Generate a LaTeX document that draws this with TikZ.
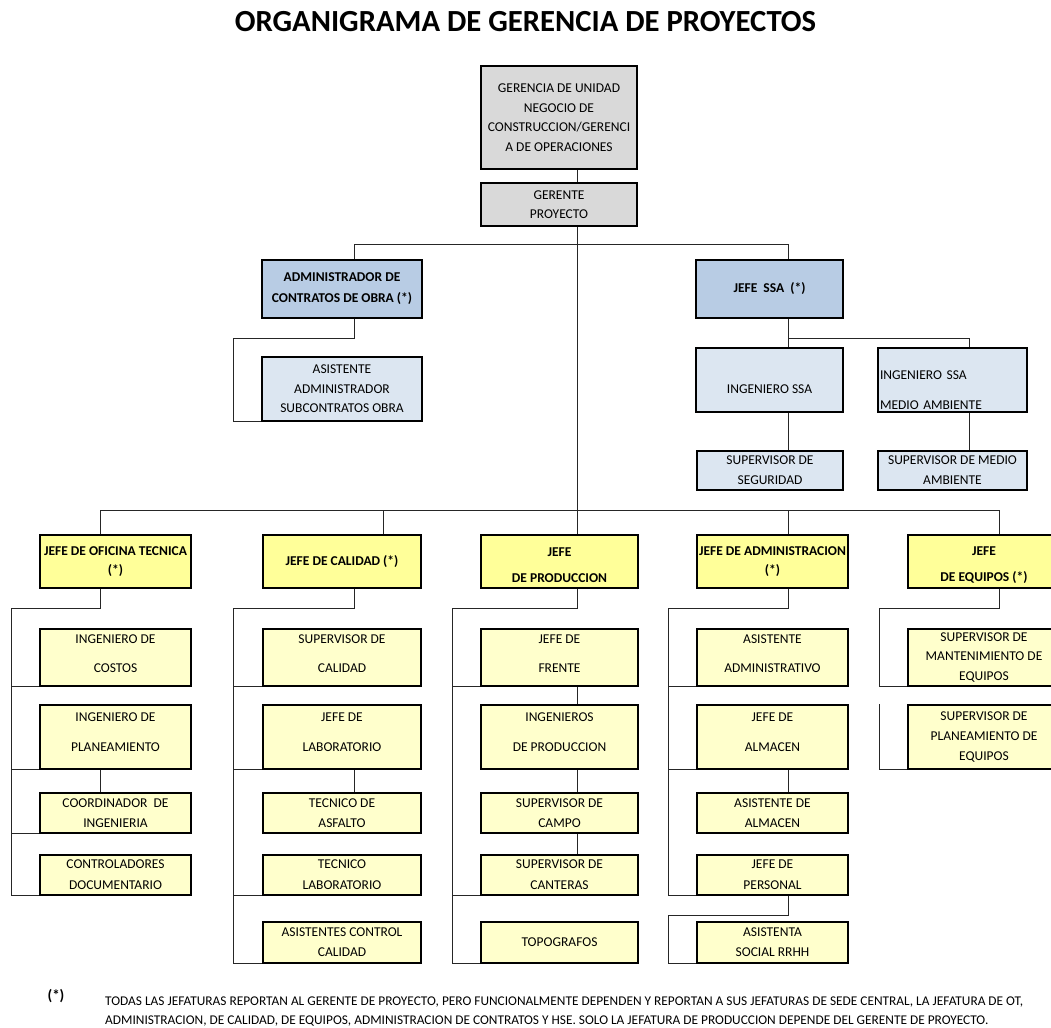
\documentclass[tikz,border=0pt]{standalone}
\usepackage{fontspec}
\setmainfont{Carlito}
\usepackage{graphicx}
\definecolor{boxgray}{HTML}{D9D9D9}
\definecolor{boxblue}{HTML}{B8CCE4}
\definecolor{boxlblue}{HTML}{DCE6F1}
\definecolor{jefeyel}{HTML}{FFFF99}
\definecolor{childyel}{HTML}{FFFFCC}
% a box from its corners: name, x1, y1, x2, y2, style, text
\newcommand\orgbox[7]{%
  \node[box,#6,minimum width={#4-#2},minimum height={#5-#3}] (#1)
    at ({(#2+#4)/2},{(#3+#5)/2}) {#7};}
\begin{document}
\begin{tikzpicture}[x=1pt,y=-1pt,
  box/.style={draw=black,line width=1.6pt,inner sep=0pt,align=center,
    font=\fontsize{13.5}{15.6}\selectfont},
  gray box/.style={fill=boxgray},
  head box/.style={fill=boxblue,font=\fontsize{13.5}{15.6}\selectfont\bfseries},
  staff box/.style={fill=boxlblue},
  jefe box/.style={fill=jefeyel,font=\fontsize{13.5}{15.6}\selectfont\bfseries},
  child box/.style={fill=childyel},
  row one/.style={text depth=8pt},
  row two/.style={text depth=10pt},
  conn/.style={draw=black!85,line width=0.9pt}]
\useasboundingbox (0,0) rectangle (1051,1027);
\fill[white] (0,0) rectangle (1051,1027);

% title
\node[font=\fontsize{30.7}{36}\selectfont\bfseries] (title) at (525.5,22)
  {ORGANIGRAMA DE GERENCIA DE PROYECTOS};

% upper management
\orgbox{g1}{481}{66}{637}{169}{gray box}
  {GERENCIA DE UNIDAD\\[4pt]NEGOCIO DE\\[4pt]CONSTRUCCION/GERENCI\\[4pt]A DE OPERACIONES}
\orgbox{g2}{481}{183}{637}{226}{gray box}{GERENTE\\[3.4pt]PROYECTO}

% staff heads
\orgbox{adm}{262}{260}{422}{318}{head box}{ADMINISTRADOR DE\\[5.4pt]CONTRATOS DE OBRA (*)}
\orgbox{asis}{262}{357}{422}{421}{staff box}{ASISTENTE\\[3.9pt]ADMINISTRADOR\\[3.9pt]SUBCONTRATOS OBRA}
\orgbox{ssa}{696}{260}{843}{318}{head box}{JEFE\ \ SSA\ \ (*)}
\orgbox{ingssa}{696}{348}{843}{412}{staff box,text height=28pt}{INGENIERO SSA}
\orgbox{ingma}{878}{348}{1027}{412}{staff box,text width=145pt,align=left,text height=28.4pt}
  {INGENIERO SSA\\[14.4pt]MEDIO AMBIENTE}
\orgbox{supseg}{697}{451}{843}{490}{staff box}{SUPERVISOR DE\\[4.4pt]SEGURIDAD}
\orgbox{supma}{878}{451}{1027}{490}{staff box}{SUPERVISOR DE MEDIO\\[4.4pt]AMBIENTE}

% line heads
\orgbox{ofi}{40}{535}{191}{588}{jefe box}{JEFE DE OFICINA TECNICA\\[3.4pt](*)}
\orgbox{cal}{263}{535}{421}{588}{jefe box}{JEFE DE CALIDAD (*)}
\orgbox{prod}{481}{535}{638}{588}{jefe box,text height=41.5pt}{JEFE\\[10.4pt]DE PRODUCCION}
\orgbox{jadm}{697}{535}{848}{588}{jefe box}{JEFE DE ADMINISTRACION\\[3.4pt](*)}
\orgbox{eqp}{908}{535}{1060}{588}{jefe box,text height=41.5pt}{JEFE\\[10.4pt]DE EQUIPOS (*)}

% oficina tecnica
\orgbox{o1}{40}{629}{191}{686}{child box,row one}{INGENIERO DE\\[13.4pt]COSTOS}
\orgbox{o2}{40}{705}{191}{769}{child box,row two}{INGENIERO DE\\[14.4pt]PLANEAMIENTO}
\orgbox{o3}{40}{793}{191}{833}{child box}{COORDINADOR\ \ DE\\[4.4pt]INGENIERIA}
\orgbox{o4}{40}{855}{191}{895}{child box}{CONTROLADORES\\[5.4pt]DOCUMENTARIO}

% calidad
\orgbox{k1}{263}{629}{421}{686}{child box,row one}{SUPERVISOR DE\\[13.4pt]CALIDAD}
\orgbox{k2}{263}{705}{421}{769}{child box,row two}{JEFE DE\\[14.4pt]LABORATORIO}
\orgbox{k3}{263}{793}{421}{833}{child box}{TECNICO DE\\[4.4pt]ASFALTO}
\orgbox{k4}{263}{855}{421}{895}{child box}{TECNICO\\[5.4pt]LABORATORIO}
\orgbox{k5}{263}{922}{421}{963}{child box}{ASISTENTES CONTROL\\[4.4pt]CALIDAD}

% produccion
\orgbox{p1}{481}{629}{638}{686}{child box,row one}{JEFE DE\\[13.4pt]FRENTE}
\orgbox{p2}{481}{705}{638}{769}{child box,row two}{INGENIEROS\\[14.4pt]DE PRODUCCION}
\orgbox{p3}{481}{793}{638}{833}{child box}{SUPERVISOR DE\\[4.4pt]CAMPO}
\orgbox{p4}{481}{855}{638}{895}{child box}{SUPERVISOR DE\\[5.4pt]CANTERAS}
\orgbox{p5}{481}{922}{638}{963}{child box}{TOPOGRAFOS}

% administracion
\orgbox{d1}{697}{629}{848}{686}{child box,row one}{ASISTENTE\\[13.4pt]ADMINISTRATIVO}
\orgbox{d2}{697}{705}{848}{769}{child box,row two}{JEFE DE\\[14.4pt]ALMACEN}
\orgbox{d3}{697}{793}{848}{833}{child box}{ASISTENTE DE\\[4.4pt]ALMACEN}
\orgbox{d4}{697}{855}{848}{895}{child box}{JEFE DE\\[5.4pt]PERSONAL}
\orgbox{d5}{697}{922}{848}{963}{child box}{ASISTENTA\\[4.4pt]SOCIAL RRHH}

% equipos
\orgbox{e1}{908}{629}{1060}{686}{child box}{SUPERVISOR DE\\[4pt]MANTENIMIENTO DE\\[4pt]EQUIPOS}
\orgbox{e2}{908}{705}{1060}{769}{child box}{SUPERVISOR DE\\[4.4pt]PLANEAMIENTO DE\\[4.4pt]EQUIPOS}

% routing points
\coordinate (cx) at (577,510);
\coordinate (tA) at (354,244);
\coordinate (tB) at (788,244);
\coordinate (c1) at (233,338);
\coordinate (s1) at (788,338);
\coordinate (s2) at (969,338);
\coordinate (b1) at (100,510);
\coordinate (b2) at (383,510);
\coordinate (b4) at (788,510);
\coordinate (b5) at (999,510);
\coordinate (oL) at (11,608);
\coordinate (kx) at (354,608);
\coordinate (kL) at (233,608);
\coordinate (pL) at (452,608);
\coordinate (dL) at (668,608);
\coordinate (dS) at (668,915);
\coordinate (eL) at (879,608);

% top of the tree
\draw[conn] (g1.south -| cx) -- (g2.north -| cx);
\draw[conn] (g2.south -| cx) -- (prod.north -| cx);
\draw[conn] (adm.north -| tA) |- (tB) -- (ssa.north -| tB);
\draw[conn] (adm.south -| tA) |- (c1) |- (asis.south west);
\draw[conn] (ssa.south -| tB) -- (ingssa.north -| tB);
\draw[conn] (s1) -- (s2) -- (ingma.north -| s2);
\draw[conn] (ingssa.south -| tB) -- (supseg.north -| tB);
\draw[conn] (ingma.south -| s2) -- (supma.north -| s2);

% bus to the line heads
\draw[conn] (ofi.north -| b1) |- (b5) -- (eqp.north -| b5);
\draw[conn] (b2) -- (cal.north -| b2);
\draw[conn] (b4) -- (jadm.north -| b4);

% oficina tecnica
\draw[conn] (ofi.south -| b1) |- (oL) |- (o4.south west);
\draw[conn] (oL |- o1.south) -- (o1.south west);
\draw[conn] (oL |- o2.south) -- (o2.south west);
\draw[conn] (oL |- o3.south) -- (o3.south west);
\draw[conn] (o2.south -| b1) -- (o3.north -| b1);

% calidad
\draw[conn] (cal.south -| kx) -- (kx) -- (kL) |- (k5.south west);
\draw[conn] (kL |- k1.south) -- (k1.south west);
\draw[conn] (kL |- k2.south) -- (k2.south west);
\draw[conn] (kL |- k4.south) -- (k4.south west);
\draw[conn] (k2.south -| kx) -- (k3.north -| kx);

% produccion
\draw[conn] (prod.south -| cx) |- (pL) |- (p5.south west);
\draw[conn] (pL |- p1.south) -- (p1.south west);
\draw[conn] (pL |- p4.south) -- (p4.south west);
\draw[conn] (p1.south -| cx) -- (p2.north -| cx);
\draw[conn] (p2.south -| cx) -- (p3.north -| cx);
\draw[conn] (p3.south -| cx) -- (p4.north -| cx);

% administracion
\draw[conn] (jadm.south -| b4) |- (dL) |- (d4.south west);
\draw[conn] (dL |- d1.south) -- (d1.south west);
\draw[conn] (dL |- d2.south) -- (d2.south west);
\draw[conn] (d2.south -| b4) -- (d3.north -| b4);
\draw[conn] (d4.south -| b4) |- (dS) |- (d5.south west);

% equipos
\draw[conn] (eqp.south -| b5) |- (eL) |- (e1.south west);
\draw[conn] (eL |- e2.north) |- (e2.south west);

% footnote
\node[font=\fontsize{15}{17}\selectfont\bfseries] (star) at (56,996) {(*)};
\node[anchor=north west,inner sep=0pt] (note) at (105,993)
  {\resizebox{918pt}{!}{\fontsize{11}{15}\selectfont
   \begin{tabular}{@{}l@{}}
   TODAS LAS JEFATURAS REPORTAN AL GERENTE DE PROYECTO, PERO FUNCIONALMENTE DEPENDEN Y REPORTAN A SUS JEFATURAS DE SEDE CENTRAL, LA JEFATURA DE OT,\\
   ADMINISTRACION, DE CALIDAD, DE EQUIPOS, ADMINISTRACION DE CONTRATOS Y HSE. SOLO LA JEFATURA DE PRODUCCION DEPENDE DEL GERENTE DE PROYECTO.
   \end{tabular}}};
\end{tikzpicture}
\end{document}
